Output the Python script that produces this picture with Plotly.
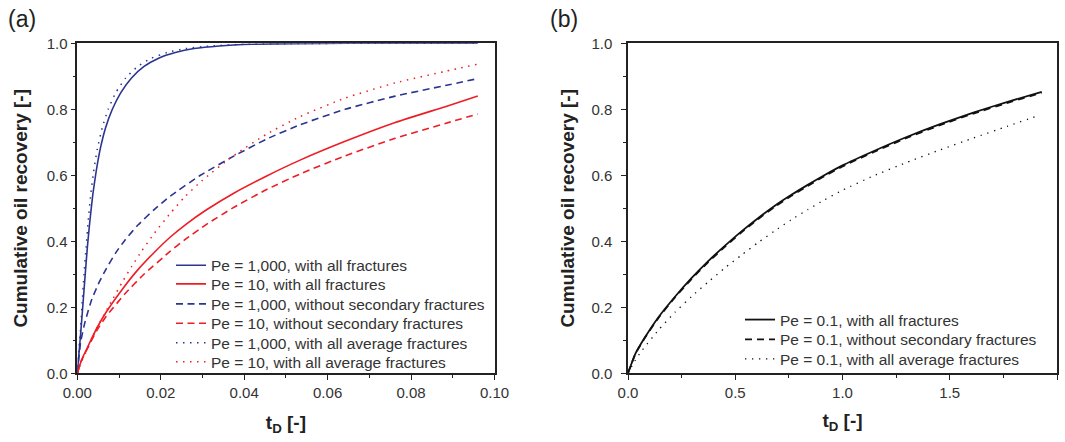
import plotly.graph_objects as go

# ---------------- data: panel (a) ----------------
t_pe1000_all = [0, 0.0004, 0.0008, 0.0013, 0.0019, 0.0024, 0.0030, 0.0037, 0.0045, 0.0055, 0.0068, 0.0084,
                0.0104, 0.0130, 0.0160, 0.0195, 0.0235, 0.0280, 0.0340, 0.0420, 0.0520, 0.0650, 0.0800, 0.0960]
r_pe1000_all = [0, 0.06, 0.12, 0.20, 0.30, 0.38, 0.46, 0.54, 0.61, 0.68, 0.745, 0.80,
                0.85, 0.895, 0.93, 0.955, 0.972, 0.984, 0.992, 0.997, 0.999, 1.0, 1.0, 1.0]

t_pe10_all = [0, 0.0010, 0.0023, 0.0046, 0.0069, 0.0108, 0.0146, 0.0185, 0.0223, 0.0262, 0.0308,
              0.0374, 0.0454, 0.0534, 0.0642, 0.0762, 0.0882, 0.0960]
r_pe10_all = [0, 0.040, 0.075, 0.135, 0.185, 0.255, 0.315, 0.367, 0.413, 0.453, 0.494,
              0.545, 0.598, 0.646, 0.703, 0.760, 0.808, 0.840]

t_pe1000_nosec = [0, 0.0008, 0.0019, 0.0035, 0.0054, 0.0069, 0.0092, 0.0115, 0.0146, 0.0185, 0.0223,
                  0.0295, 0.0375, 0.0454, 0.0534, 0.0642, 0.0762, 0.0882, 0.0960]
r_pe1000_nosec = [0, 0.095, 0.158, 0.225, 0.280, 0.316, 0.365, 0.405, 0.450, 0.497, 0.537,
                  0.600, 0.658, 0.710, 0.753, 0.800, 0.840, 0.872, 0.893]

t_pe10_nosec = [0, 0.0010, 0.0023, 0.0046, 0.0069, 0.0115, 0.0158, 0.0223, 0.0258, 0.0308, 0.0374,
                0.0454, 0.0534, 0.0642, 0.0762, 0.0882, 0.0960]
r_pe10_nosec = [0, 0.038, 0.072, 0.128, 0.172, 0.242, 0.298, 0.370, 0.405, 0.450, 0.502,
                0.557, 0.604, 0.659, 0.712, 0.757, 0.786]

t_pe1000_avg = [0, 0.0003, 0.0007, 0.0011, 0.0016, 0.0021, 0.0026, 0.0032, 0.0039, 0.0048, 0.0060, 0.0074,
                0.0092, 0.0116, 0.0145, 0.0178, 0.0215, 0.0260, 0.0320, 0.0400, 0.0500, 0.0650, 0.0800, 0.0960]
r_pe1000_avg = [0, 0.06, 0.12, 0.20, 0.30, 0.38, 0.46, 0.54, 0.61, 0.68, 0.745, 0.80,
                0.85, 0.895, 0.93, 0.955, 0.972, 0.984, 0.992, 0.997, 0.999, 1.0, 1.0, 1.0]

t_pe10_avg = [0, 0.0010, 0.0023, 0.0046, 0.0085, 0.0108, 0.0131, 0.0154, 0.0185, 0.0223, 0.0258,
              0.0298, 0.0374, 0.0454, 0.0534, 0.0642, 0.0762, 0.0882, 0.0960]
r_pe10_avg = [0, 0.035, 0.070, 0.135, 0.225, 0.277, 0.325, 0.370, 0.425, 0.485, 0.535,
              0.583, 0.659, 0.725, 0.778, 0.834, 0.880, 0.915, 0.937]

# ---------------- data: panel (b) ----------------
t_pe01_all = [0, 0.034, 0.080, 0.142, 0.219, 0.297, 0.374, 0.451, 0.529, 0.606, 0.683,
              0.760, 0.838, 0.915, 1.000, 1.144, 1.299, 1.455, 1.610, 1.766, 1.929]
r_pe01_all = [0, 0.059, 0.110, 0.170, 0.232, 0.289, 0.340, 0.386, 0.430, 0.470, 0.507,
              0.540, 0.571, 0.600, 0.630, 0.673, 0.716, 0.755, 0.790, 0.822, 0.853]

t_pe01_nosec = [0, 0.034, 0.080, 0.142, 0.219, 0.297, 0.374, 0.451, 0.529, 0.606, 0.683,
                0.760, 0.838, 0.915, 1.000, 1.144, 1.299, 1.455, 1.610, 1.766, 1.929]
r_pe01_nosec = [0, 0.058, 0.109, 0.168, 0.230, 0.286, 0.337, 0.383, 0.427, 0.467, 0.504,
                0.537, 0.568, 0.597, 0.627, 0.670, 0.713, 0.752, 0.787, 0.819, 0.850]

t_pe01_avg = [0, 0.034, 0.065, 0.142, 0.219, 0.297, 0.374, 0.451, 0.529, 0.606, 0.683,
              0.760, 0.838, 0.915, 1.000, 1.144, 1.299, 1.455, 1.610, 1.766, 1.913]
r_pe01_avg = [0, 0.040, 0.069, 0.131, 0.185, 0.233, 0.277, 0.319, 0.358, 0.396, 0.431,
              0.465, 0.496, 0.525, 0.555, 0.598, 0.639, 0.677, 0.713, 0.748, 0.781]

xticks_a = [0.00, 0.02, 0.04, 0.06, 0.08, 0.10]
xticklabels_a = ["0.00", "0.02", "0.04", "0.06", "0.08", "0.10"]
xticks_b = [0.0, 0.5, 1.0, 1.5, 2.0]
xticklabels_b = ["0.0", "0.5", "1.0", "1.5", "2.0"]
yticks = [0.0, 0.2, 0.4, 0.6, 0.8, 1.0]
yticklabels = ["0.0", "0.2", "0.4", "0.6", "0.8", "1.0"]

BLUE = "#2B3590"
RED = "#EE1D25"
BLACK = "#111111"
FONT = "Liberation Sans, Arial, sans-serif"

W, H = 1065, 442
fig = go.Figure()

def add(x, y, name, color, dash, width, xa, ya, legend):
    fig.add_trace(go.Scatter(x=x, y=y, name=name, mode="lines", showlegend=True,
                             line=dict(color=color, dash=dash, width=width, shape="spline", smoothing=0.5),
                             xaxis=xa, yaxis=ya, legend=legend))

add(t_pe1000_all, r_pe1000_all, "Pe = 1,000, with all fractures", BLUE, "solid", 1.6, "x", "y", "legend")
add(t_pe10_all, r_pe10_all, "Pe = 10, with all fractures", RED, "solid", 1.6, "x", "y", "legend2")
add(t_pe1000_nosec, r_pe1000_nosec, "Pe = 1,000, without secondary fractures", BLUE, "7px,4.5px", 1.6, "x", "y", "legend3")
add(t_pe10_nosec, r_pe10_nosec, "Pe = 10, without secondary fractures", RED, "7px,4.5px", 1.6, "x", "y", "legend4")
add(t_pe1000_avg, r_pe1000_avg, "Pe = 1,000, with all average fractures", BLUE, "1.5px,5.5px", 1.5, "x", "y", "legend5")
add(t_pe10_avg, r_pe10_avg, "Pe = 10, with all average fractures", RED, "1.5px,5.5px", 1.5, "x", "y", "legend6")

add(t_pe01_all, r_pe01_all, "Pe = 0.1, with all fractures", BLACK, "solid", 1.8, "x2", "y2", "legend7")
add(t_pe01_nosec, r_pe01_nosec, "Pe = 0.1, without secondary fractures", BLACK, "7px,5px", 1.8, "x2", "y2", "legend8")
add(t_pe01_avg, r_pe01_avg, "Pe = 0.1, with all average fractures", BLACK, "1.3px,5.7px", 1.3, "x2", "y2", "legend9")

y_dom = [(H - 373.3) / H, (H - 43.3) / H]
axis_common = dict(showline=True, linecolor="#222222", linewidth=1.5, mirror=True,
                   ticks="outside", ticklen=5, tickwidth=1.2, tickcolor="#222222",
                   showgrid=False, zeroline=False,
                   tickfont=dict(family=FONT, size=15, color="#333333"),
                   automargin=False)

title_font = dict(family=FONT, size=19, color="#222222")

legend_rows_a = [265.7, 284.3, 304.3, 323.7, 343.3, 362.3]
legend_rows_b = [320.0, 339.7, 359.3]

def leg(xpx, ypx):
    return dict(x=xpx / W, y=(H - ypx) / H, xanchor="left", yanchor="middle", visible=True,
                bgcolor="rgba(0,0,0,0)", borderwidth=0,
                font=dict(family=FONT, size=15.5, color="#333333"))

legends = {}
for i, yp in enumerate(legend_rows_a):
    legends["legend" if i == 0 else f"legend{i + 1}"] = leg(171, yp)
for j, yp in enumerate(legend_rows_b):
    legends[f"legend{j + 7}"] = leg(740, yp)

fig.update_layout(
    width=W, height=H,
    showlegend=True,
    margin=dict(l=0, r=0, t=0, b=0),
    paper_bgcolor="white", plot_bgcolor="white",
    font=dict(family=FONT, color="#222222"),
    xaxis=dict(domain=[77.3 / W, 494.5 / W], range=[0, 0.1], tickvals=xticks_a, ticktext=xticklabels_a,
               minor=dict(ticks="outside", ticklen=3, dtick=0.01, tickcolor="#222222"),
               title=dict(text="<b>t<sub>D</sub> [-]</b>", font=title_font, standoff=16),
               anchor="y", **axis_common),
    yaxis=dict(domain=y_dom, range=[0, 1.0], tickvals=yticks, ticktext=yticklabels,
               minor=dict(ticks="outside", ticklen=3, dtick=0.1, tickcolor="#222222"),
               title=dict(text="<b>Cumulative oil recovery [-]</b>", font=title_font, standoff=14),
               anchor="x", **axis_common),
    xaxis2=dict(domain=[628 / W, 1057 / W], range=[0, 2.0], tickvals=xticks_b, ticktext=xticklabels_b,
                minor=dict(ticks="outside", ticklen=3, dtick=0.25, tickcolor="#222222"),
                title=dict(text="<b>t<sub>D</sub> [-]</b>", font=title_font, standoff=14),
                anchor="y2", **axis_common),
    yaxis2=dict(domain=y_dom, range=[0, 1.0], tickvals=yticks, ticktext=yticklabels,
                minor=dict(ticks="outside", ticklen=3, dtick=0.1, tickcolor="#222222"),
                title=dict(text="<b>Cumulative oil recovery [-]</b>", font=title_font, standoff=12),
                ticklabelstandoff=6,
                anchor="x2", **axis_common),
    annotations=[
        dict(text="(a)", x=6 / W, y=1 - 4 / H, xref="paper", yref="paper", xanchor="left", yanchor="top",
             showarrow=False, font=dict(family=FONT, size=23, color="#222222")),
        dict(text="(b)", x=548 / W, y=1 - 4 / H, xref="paper", yref="paper", xanchor="left", yanchor="top",
             showarrow=False, font=dict(family=FONT, size=23, color="#222222")),
    ],
    **legends,
)

fig.write_html("out.html")
